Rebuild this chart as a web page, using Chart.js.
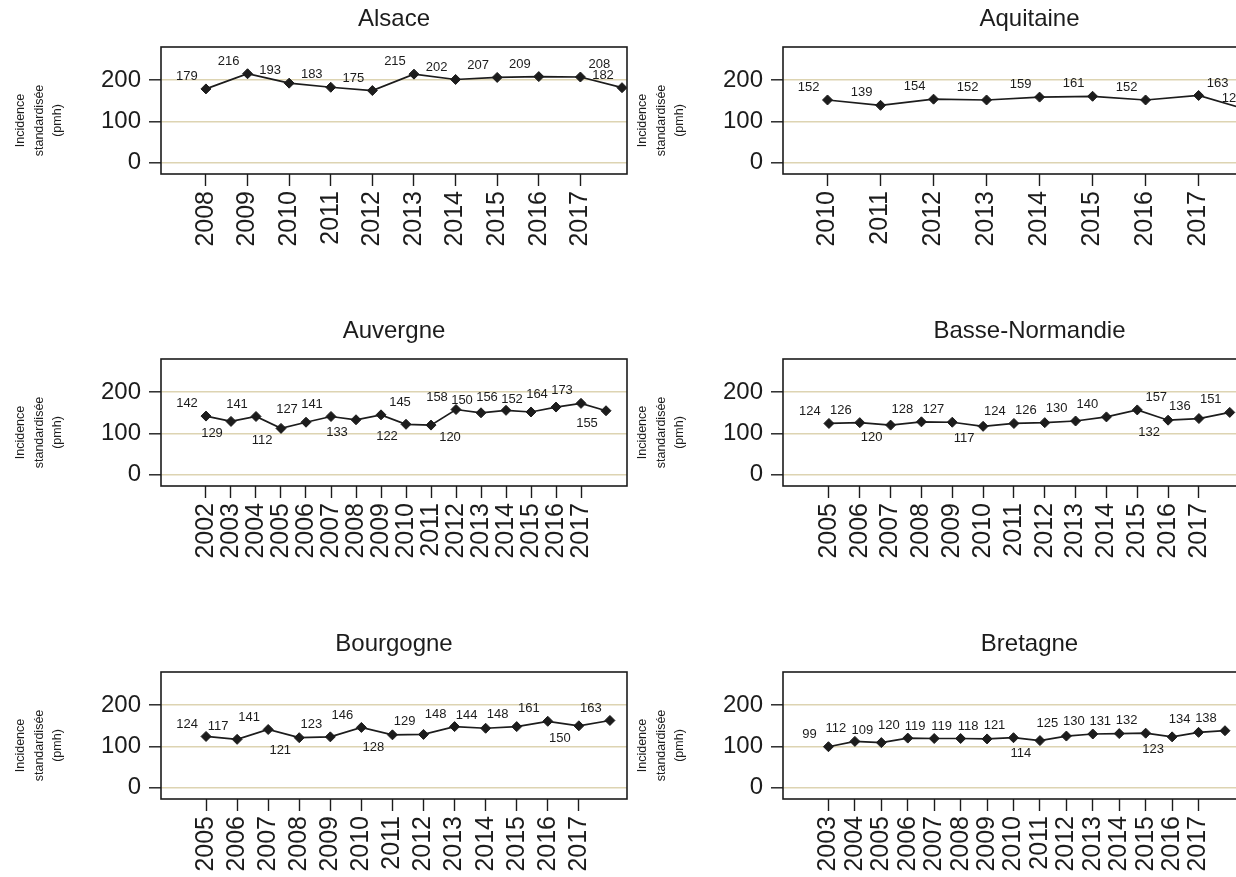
<!DOCTYPE html>
<html>
<head>
<meta charset="utf-8">
<script src="https://cdn.jsdelivr.net/npm/chart.js@4.4.1/dist/chart.umd.min.js"></script>
<style>
  html, body { margin: 0; padding: 0; background: #fff; }
  body { width: 1236px; height: 877px; overflow: hidden; position: relative; }
  canvas { position: absolute; }
</style>
</head>
<body>
<canvas id="alsace" width="640" height="312" style="left:0px;top:0px"></canvas>
<canvas id="aquitaine" width="660" height="312" style="left:622px;top:0px"></canvas>
<canvas id="auvergne" width="640" height="312" style="left:0px;top:312px"></canvas>
<canvas id="basseNormandie" width="660" height="312" style="left:622px;top:312px"></canvas>
<canvas id="bourgogne" width="640" height="312" style="left:0px;top:625px"></canvas>
<canvas id="bretagne" width="660" height="312" style="left:622px;top:625px"></canvas>
<script>
// Incidence standardisée (pmh) par région et par année
const alsaceYears = [2008, 2009, 2010, 2011, 2012, 2013, 2014, 2015, 2016, 2017, 2018];
const alsaceValues = [179, 216, 193, 183, 175, 215, 202, 207, 209, 208, 182];

const aquitaineYears = [2010, 2011, 2012, 2013, 2014, 2015, 2016, 2017, 2018];
const aquitaineValues = [152, 139, 154, 152, 159, 161, 152, 163, 125];

const auvergneYears = [2002, 2003, 2004, 2005, 2006, 2007, 2008, 2009, 2010, 2011, 2012, 2013, 2014, 2015, 2016, 2017, 2018];
const auvergneValues = [142, 129, 141, 112, 127, 141, 133, 145, 122, 120, 158, 150, 156, 152, 164, 173, 155];

const basseNormandieYears = [2005, 2006, 2007, 2008, 2009, 2010, 2011, 2012, 2013, 2014, 2015, 2016, 2017, 2018];
const basseNormandieValues = [124, 126, 120, 128, 127, 117, 124, 126, 130, 140, 157, 132, 136, 151];

const bourgogneYears = [2005, 2006, 2007, 2008, 2009, 2010, 2011, 2012, 2013, 2014, 2015, 2016, 2017, 2018];
const bourgogneValues = [124, 117, 141, 121, 123, 146, 128, 129, 148, 144, 148, 161, 150, 163];

const bretagneYears = [2003, 2004, 2005, 2006, 2007, 2008, 2009, 2010, 2011, 2012, 2013, 2014, 2015, 2016, 2017, 2018];
const bretagneValues = [99, 112, 109, 120, 119, 119, 118, 121, 114, 125, 130, 131, 132, 123, 134, 138];

// graduations : la derniere annee n'a pas d'etiquette sur l'axe
const yTicks = [0, 100, 200];
const yTitleLines = ['Incidence', 'standardisée', '(pmh)'];

const ink = '#1c1c1c';
const beige = '#ddd4b2';
const font = '"Liberation Sans", Arial, sans-serif';

// cadre autour de la zone de tracé
const framePlugin = {
  id: 'frame',
  beforeDatasetsDraw(chart) {
    const a = chart.chartArea;
    const ctx = chart.ctx;
    ctx.save();
    ctx.strokeStyle = ink;
    ctx.lineWidth = 1.6;
    ctx.strokeRect(a.left, a.top, a.right - a.left, a.bottom - a.top);
    ctx.restore();
  }
};

// étiquettes de valeur a côté de chaque point
const valueLabels = {
  id: 'valueLabels',
  afterDatasetsDraw(chart, args, opts) {
    const ctx = chart.ctx;
    const pts = chart.getDatasetMeta(0).data;
    const data = chart.data.datasets[0].data;
    ctx.save();
    ctx.font = '13px ' + font;
    ctx.fillStyle = ink;
    ctx.textAlign = 'center';
    ctx.textBaseline = 'middle';
    pts.forEach((p, i) => {
      const side = opts.sides[i] || 'ul';
      const dx = side[1] === 'r' ? 19 : -19;
      const dy = side[0] === 'l' ? 12.5 : -12.5;
      ctx.fillText(String(data[i].y), p.x + dx, p.y + dy);
    });
    ctx.restore();
  }
};

// titre de l'axe y sur trois lignes
const yTitle = {
  id: 'yTitle',
  afterDraw(chart) {
    const ctx = chart.ctx;
    const a = chart.chartArea;
    const cy = (a.top + a.bottom) / 2 + 10;
    const xs = [21, 39.5, 58];
    ctx.save();
    ctx.fillStyle = ink;
    ctx.font = '12.5px ' + font;
    ctx.textAlign = 'center';
    ctx.textBaseline = 'middle';
    yTitleLines.forEach((line, i) => {
      ctx.save();
      ctx.translate(xs[i], cy);
      ctx.rotate(-Math.PI / 2);
      ctx.fillText(line, 0, 0);
      ctx.restore();
    });
    ctx.restore();
  }
};

function makePanel(id, title, years, values, xMin, xMax, sides, padRight) {
  const points = years.map((yr, i) => ({ x: yr, y: values[i] }));
  const tickYears = years.slice(0, -1);
  new Chart(document.getElementById(id), {
    type: 'line',
    data: {
      datasets: [{
        data: points,
        borderColor: ink,
        borderWidth: 1.7,
        pointStyle: 'rectRot',
        pointRadius: 5,
        pointBackgroundColor: ink,
        pointBorderColor: ink,
        pointBorderWidth: 1,
        tension: 0
      }]
    },
    options: {
      responsive: false,
      animation: false,
      events: [],
      layout: { padding: { left: 0, right: padRight, top: 0, bottom: 0 } },
      plugins: {
        legend: { display: false },
        tooltip: { enabled: false },
        valueLabels: { sides: sides }
      },
      scales: {
        x: {
          type: 'linear',
          position: 'bottom',
          min: xMin,
          max: xMax,
          afterBuildTicks: s => { s.ticks = tickYears.map(v => ({ value: v })); },
          afterFit: s => { s.height = 312 - 174; },
          ticks: {
            autoSkip: false,
            minRotation: 90,
            maxRotation: 90,
            padding: 5,
            color: ink,
            font: { family: font, size: 25 },
            callback: v => String(v)
          },
          grid: {
            drawOnChartArea: false,
            drawTicks: true,
            tickLength: 12,
            tickColor: ink,
            tickWidth: 1.4
          },
          border: { display: false }
        },
        y: {
          type: 'linear',
          min: -28.5,
          max: 281.2,
          afterBuildTicks: s => { s.ticks = yTicks.map(v => ({ value: v })); },
          afterFit: s => { s.width = 161; },
          ticks: {
            padding: 8,
            color: ink,
            font: { family: font, size: 24 }
          },
          grid: {
            color: beige,
            lineWidth: 1.6,
            tickColor: ink,
            tickLength: 12,
            tickWidth: 1.4
          },
          border: { display: false }
        },
        top: {
          axis: 'x',
          type: 'linear',
          position: 'top',
          afterFit: s => { s.height = 47; },
          ticks: { display: false },
          grid: { display: false },
          border: { display: false },
          title: {
            display: true,
            text: title,
            color: ink,
            font: { family: font, size: 24 },
            padding: { top: 4.6, bottom: 0 }
          }
        }
      }
    },
    plugins: [framePlugin, valueLabels, yTitle]
  });
}

makePanel('alsace', 'Alsace', alsaceYears, alsaceValues, 2006.92, 2018.12,
  ['ul', 'ul', 'ul', 'ul', 'ul', 'ul', 'ul', 'ul', 'ul', 'ur', 'ul'], 13);
makePanel('aquitaine', 'Aquitaine', aquitaineYears, aquitaineValues, 2009.16, 2018.46,
  ['ul', 'ul', 'ul', 'ul', 'ul', 'ul', 'ul', 'ur', 'ul'], 0);
makePanel('auvergne', 'Auvergne', auvergneYears, auvergneValues, 2000.2, 2018.84,
  ['ul', 'll', 'ul', 'll', 'ul', 'ul', 'll', 'ur', 'll', 'lr', 'ul', 'ul', 'ul', 'ul', 'ul', 'ul', 'll'], 13);
makePanel('basseNormandie', 'Basse-Normandie', basseNormandieYears, basseNormandieValues, 2003.51, 2019.5,
  ['ul', 'ul', 'll', 'ul', 'ul', 'll', 'ul', 'ul', 'ul', 'ul', 'ur', 'll', 'ul', 'ul'], 0);
makePanel('bourgogne', 'Bourgogne', bourgogneYears, bourgogneValues, 2003.55, 2018.55,
  ['ul', 'ul', 'ul', 'll', 'ul', 'ul', 'll', 'ul', 'ul', 'ul', 'ul', 'ul', 'll', 'ul'], 13);
makePanel('bretagne', 'Bretagne', bretagneYears, bretagneValues, 2001.28, 2019.93,
  ['ul', 'ul', 'ul', 'ul', 'ul', 'ul', 'ul', 'ul', 'll', 'ul', 'ul', 'ul', 'ul', 'll', 'ul', 'ul'], 0);
</script>
</body>
</html>
